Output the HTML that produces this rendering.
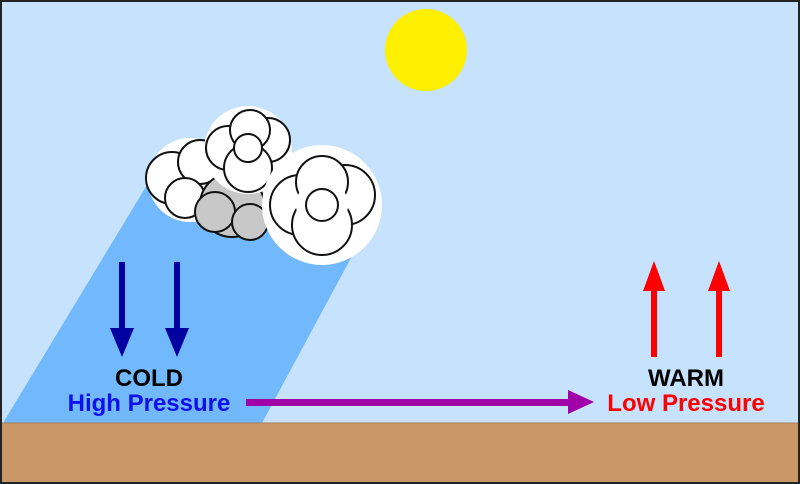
<!DOCTYPE html>
<html><head><style>html,body{margin:0;padding:0;background:#000}svg{display:block}</style></head>
<body>
<svg width="800" height="484" viewBox="0 0 800 484" xmlns="http://www.w3.org/2000/svg">
<rect x="0" y="0" width="800" height="484" fill="#222"/>
<rect x="2" y="2" width="796" height="480" fill="#c6e2fd"/>
<polygon points="3,423 262,423 365,232 150,180" fill="#72b8fc"/>
<rect x="2" y="423" width="796" height="59" fill="#ca9866"/>
<line x1="2" y1="423" x2="798" y2="423" fill="none" stroke="#b08056" stroke-width="1"/>
<circle cx="426" cy="50" r="41" fill="#ffef00"/>
<g stroke="#111" stroke-width="2">
<circle cx="190" cy="180" r="42" fill="#fff" stroke="none"/>
<circle cx="172" cy="178" r="26" fill="#fff"/>
<circle cx="200" cy="162" r="22" fill="#fff"/>
<circle cx="185" cy="198" r="20" fill="#fff"/>
<circle cx="232" cy="205" r="32" fill="#c8c8c8"/>
<circle cx="215" cy="212" r="20" fill="#c8c8c8"/>
<circle cx="250" cy="222" r="18" fill="#c8c8c8"/>
<circle cx="248" cy="150" r="44" fill="#fff" stroke="none"/>
<circle cx="228" cy="148" r="22" fill="#fff"/>
<circle cx="268" cy="140" r="22" fill="#fff"/>
<circle cx="248" cy="168" r="24" fill="#fff"/>
<circle cx="250" cy="130" r="20" fill="#fff"/>
<circle cx="248" cy="148" r="14" fill="#fff"/>
<circle cx="322" cy="205" r="60" fill="#fff" stroke="none"/>
<circle cx="300" cy="205" r="30" fill="#fff"/>
<circle cx="345" cy="195" r="30" fill="#fff"/>
<circle cx="322" cy="225" r="30" fill="#fff"/>
<circle cx="322" cy="182" r="26" fill="#fff"/>
<circle cx="322" cy="205" r="26" fill="#fff" stroke="none"/>
<circle cx="322" cy="205" r="16" fill="#fff"/>
</g>
<g fill="#0000a0">
<rect x="119" y="262" width="6" height="68"/><polygon points="110,328 134,328 122,357"/>
<rect x="174" y="262" width="6" height="68"/><polygon points="165,328 189,328 177,357"/>
</g>
<g fill="#ff0000">
<rect x="651" y="288" width="6" height="69"/><polygon points="643,291 665,291 654,261"/>
<rect x="716" y="288" width="6" height="69"/><polygon points="708,291 730,291 719,261"/>
</g>
<rect x="246" y="399" width="326" height="7" fill="#a000a8"/>
<polygon points="568,390 568,414 594,402" fill="#a000a8"/>
<g font-family="Liberation Sans, sans-serif" font-weight="bold" font-size="24" text-anchor="middle">
<text x="149" y="386" fill="#000">COLD</text>
<text x="149" y="411" fill="#1010ee">High Pressure</text>
<text x="686" y="386" fill="#000">WARM</text>
<text x="686" y="411" fill="#ff0000">Low Pressure</text>
</g>
</svg>
</body></html>
